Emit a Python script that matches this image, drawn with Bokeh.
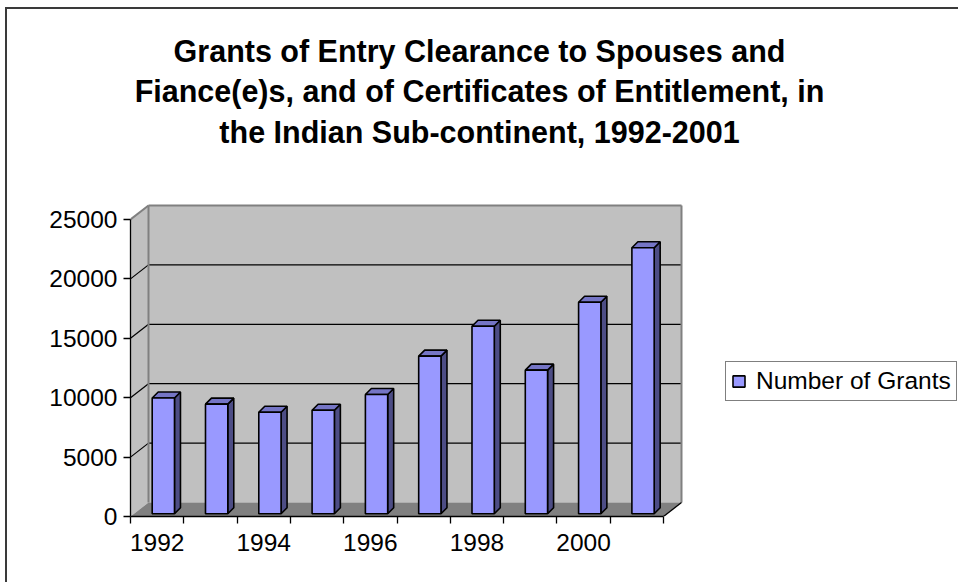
from bokeh.plotting import figure
from bokeh.models import Range1d, FixedTicker, Label, Legend, LegendItem, NumeralTickFormatter
from bokeh.embed import file_html
from bokeh.resources import INLINE

# ---------------- data ----------------
YEARS = [1992, 1993, 1994, 1995, 1996, 1997, 1998, 1999, 2000, 2001]
GRANTS = [9750, 9230, 8550, 8720, 10040, 13270, 15790, 12090, 17810, 22390]
Y_TICKS = [0, 5000, 10000, 15000, 20000, 25000]
X_LABEL_YEARS = [1992, 1994, 1996, 1998, 2000]
TITLE_LINES = [
    "Grants of Entry Clearance to Spouses and",
    "Fiance(e)s, and of Certificates of Entitlement, in",
    "the Indian Sub-continent, 1992-2001",
]
SERIES_NAME = "Number of Grants"

# ---------------- layout / style ----------------
FONT = "Liberation Sans"
PAGE_X0, PAGE_Y0 = 7, 9            # canvas origin on the page (margin + border)
CANVAS_W, CANVAS_H = 953, 575
FRAME_LEFT = 123                   # front value axis
FRAME_BOTTOM = 507                 # front category axis
CAT_PX = 53.3                      # pixels per category
Y_PX = 11.88 / 1000.0              # pixels per value unit
DEPTH_PX_X, DEPTH_PX_Y = 18.0, 14.0
BAR_L_OFF, BAR_W = 0.407, 0.418
BAR_BASE_PX = 2.7
BAR_DEPTH_PX = 6.0
TITLE_SIZE = 30.5
TITLE_PAGE_X = 479
TITLE_PAGE_YS = [50, 90, 131]
LEGEND_PAGE_LEFT, LEGEND_PAGE_BOTTOM = 725, 401

ncat = len(YEARS)
ymax = Y_TICKS[-1]
DX = DEPTH_PX_X / CAT_PX
DY = DEPTH_PX_Y / Y_PX
FRAME_W = CANVAS_W - FRAME_LEFT
FRAME_H = FRAME_BOTTOM
x_end = FRAME_W / CAT_PX
y_end = FRAME_H / Y_PX
front_x_page = PAGE_X0 + FRAME_LEFT
front_y_page = PAGE_Y0 + FRAME_BOTTOM

p = figure(width=CANVAS_W, height=CANVAS_H, output_backend="svg", toolbar_location=None,
           x_range=Range1d(0, x_end), y_range=Range1d(0, y_end),
           min_border_left=FRAME_LEFT, min_border_top=0, min_border_right=0,
           min_border_bottom=CANVAS_H - FRAME_BOTTOM)
p.outline_line_color = None
p.background_fill_color = "white"
p.border_fill_color = "white"
p.xgrid.visible = False
p.ygrid.visible = False
p.styles = {"margin-left": "5px", "margin-top": "7px",
            "border-left": "2px solid #3a3a3a", "border-top": "2px solid #3a3a3a"}

# ---------------- walls & floor ----------------
WALL = "#C0C0C0"
FLOOR = "#808080"
EDGE = "#808080"
p.patch([0, DX, DX, 0], [0, DY, ymax + DY, ymax], fill_color=WALL, line_color=None)
p.quad(left=[DX], right=[ncat + DX], bottom=[DY], top=[ymax + DY], fill_color=WALL, line_color=None)
p.patch([0, ncat, ncat + DX, DX], [0, 0, DY, DY], fill_color=FLOOR, line_color=None)

inner = Y_TICKS[1:-1]
p.segment(x0=[DX] * len(inner), y0=[v + DY for v in inner],
          x1=[ncat + DX] * len(inner), y1=[v + DY for v in inner], line_color="black", line_width=1.2)
p.segment(x0=[0] * len(inner), y0=inner, x1=[DX] * len(inner), y1=[v + DY for v in inner],
          line_color="black", line_width=1.2)
p.segment(x0=[DX, DX, ncat + DX, 0], y0=[DY, ymax + DY, DY, ymax],
          x1=[DX, ncat + DX, ncat + DX, DX], y1=[ymax + DY, ymax + DY, ymax + DY, ymax + DY],
          line_color=EDGE, line_width=2)
p.segment(x0=[ncat], y0=[0], x1=[ncat + DX], y1=[DY], line_color="black", line_width=1.3)

# ---------------- bars ----------------
base = BAR_BASE_PX / Y_PX
bdx = BAR_DEPTH_PX / CAT_PX
bdy = BAR_DEPTH_PX / Y_PX
L = [i + BAR_L_OFF for i in range(ncat)]
R = [l + BAR_W for l in L]
T = [base + v for v in GRANTS]

side_xs = [[r, r + bdx, r + bdx, r] for r in R]
side_ys = [[base, base + bdy, t + bdy, t] for t in T]
top_xs = [[l, l + bdx, r + bdx, r] for l, r in zip(L, R)]
top_ys = [[t, t + bdy, t + bdy, t] for t in T]

p.patches(side_xs, side_ys, fill_color="#4D4D85", line_color="black", line_width=1.6)
p.patches(top_xs, top_ys, fill_color="#7575C5", line_color="black", line_width=1.6)
front = p.quad(left=L, right=R, bottom=[base] * ncat, top=T,
               fill_color="#9999FF", line_color="black", line_width=1.6)

# ---------------- axes ----------------
ya = p.yaxis[0]
ya.ticker = FixedTicker(ticks=Y_TICKS, minor_ticks=[])
ya.formatter = NumeralTickFormatter(format="0")
ya.bounds = (0, ymax)
ya.axis_line_color = "black"
ya.axis_line_width = 1.3
ya.major_tick_out = 7
ya.major_tick_in = 0
ya.major_tick_line_color = "black"
ya.major_tick_line_width = 1.3
ya.minor_tick_line_color = None
ya.major_label_standoff = 6
ya.major_label_text_font = FONT
ya.major_label_text_font_size = "24.5px"
ya.major_label_text_color = "black"

xa = p.xaxis[0]
label_pos = [YEARS.index(y) + 0.5 for y in X_LABEL_YEARS]
xa.ticker = FixedTicker(ticks=label_pos, minor_ticks=list(range(ncat + 1)))
xa.major_label_overrides = {pos: str(y) for pos, y in zip(label_pos, X_LABEL_YEARS)}
xa.bounds = (0, ncat)
xa.axis_line_color = "black"
xa.axis_line_width = 1.3
xa.major_tick_line_color = None
xa.major_tick_out = 7
xa.major_tick_in = 0
xa.minor_tick_line_color = "black"
xa.minor_tick_line_width = 1.3
xa.minor_tick_out = 7
xa.minor_tick_in = 0
xa.major_label_standoff = 10
xa.major_label_text_font = FONT
xa.major_label_text_font_size = "24.5px"
xa.major_label_text_color = "black"

# ---------------- title ----------------
for line, ty in zip(TITLE_LINES, TITLE_PAGE_YS):
    p.add_layout(Label(x=(TITLE_PAGE_X - front_x_page) / CAT_PX,
                       y=(front_y_page - ty) / Y_PX,
                       text=line, text_align="center", text_baseline="middle",
                       text_font=FONT, text_font_style="bold",
                       text_font_size=f"{TITLE_SIZE}px", text_color="black"))

# ---------------- legend ----------------
legend = Legend(items=[LegendItem(label=SERIES_NAME, renderers=[front])],
                location=(LEGEND_PAGE_LEFT - front_x_page, front_y_page - LEGEND_PAGE_BOTTOM),
                orientation="vertical",
                glyph_width=15, glyph_height=14, label_standoff=10, padding=5, margin=0,
                border_line_color="black", border_line_width=1.2,
                background_fill_color="white", background_fill_alpha=1.0,
                label_text_font=FONT, label_text_font_size="24.5px", label_text_color="black")
p.add_layout(legend)

open("out.html", "w").write(file_html(p, INLINE))
